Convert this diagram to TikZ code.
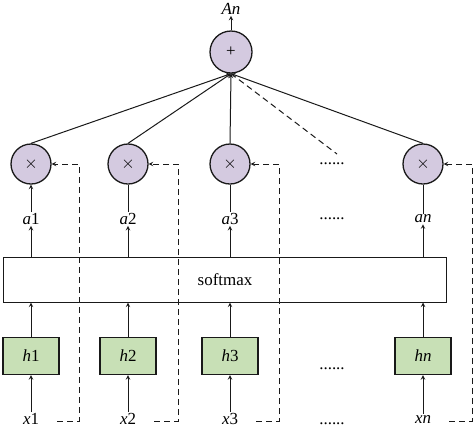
\documentclass[tikz,border=0pt]{standalone}
\usepackage{fontspec}
\setmainfont{Liberation Serif}
\usetikzlibrary{positioning}
\definecolor{mulFill}{RGB}{212,202,224}
\definecolor{hFill}{RGB}{200,224,182}
\colorlet{lineCol}{black!90}
\tikzset{
  lbl/.style={inner sep=1pt,font=\fontsize{17}{20}\selectfont},
  mulnode/.style={circle,draw=lineCol,line width=1.3pt,fill=mulFill,minimum size=40bp,inner sep=0pt,font=\fontsize{17}{20}\selectfont},
  hbox/.style={draw=lineCol,line width=1.3pt,fill=hFill,minimum width=56bp,minimum height=37bp,inner sep=0pt,font=\fontsize{17}{20}\selectfont},
  conn/.style={lineCol,line width=1bp},
  dsh/.style={lineCol,line width=1bp,dash pattern=on 6bp off 4bp},
}
\NewDocumentCommand\Lab{mm}{\textit{#1}#2}

\begin{document}
\begin{tikzpicture}[x=1bp,y=-1bp]
\useasboundingbox (0,0) rectangle (474,427);
% sum node and softmax layer
\node[mulnode,minimum size=42bp] (plus) at (231,52) {+};
\node[lbl] (An) at (231,9) {\Lab{An}{}};
\draw[conn,-stealth] (plus.north) -- (An.south);
\node[draw=lineCol,line width=1bp,minimum width=442bp,minimum height=45bp,inner sep=0pt,lbl] (soft) at (225,279.5) {softmax};
% one column per input
\foreach \i/\lab/\cx/\dx in {1/1/31/79,2/2/128/178,3/3/230/279,n/\textit{n}/423/472}
{
  \node[mulnode] (m\i) at (\cx,164) {$\times$};
  \node[lbl] (a\i) at (\cx,219) {\Lab{a}{\lab}};
  \node[hbox] (h\i) at (\cx,356) {\Lab{h}{\lab}};
  \node[lbl] (x\i) at (\cx,419) {\Lab{x}{\lab}};
  \draw[conn,-stealth] (x\i.north) -- (h\i.south);
  \draw[conn,-stealth] (h\i.north) -- (h\i.north |- soft.south);
  \draw[conn,-stealth] (a\i.north |- soft.north) -- (a\i.south);
  \draw[conn,-stealth] (m\i.north) -- (plus.south);
  % dashed skip path
  \coordinate (s\i) at (\cx+26,421);
  \coordinate (c\i) at (\dx,421);
  \draw[dsh,-stealth] (s\i) -- (c\i) -- (c\i |- m\i.east) -- (m\i.east);
}
\draw[conn,-stealth] (a1.north) -- (m1.south);
\draw[conn] (a2.north) -- (m2.south);
\draw[conn] (a3.north) -- (m3.south);
\draw[conn] (an.north) -- (mn.south);
% elided columns
\coordinate (dend) at (337,154);
\draw[dsh] (plus.south) -- (dend);
\node[lbl] (dots1) at (332,164) {......};
\node[lbl] (dots2) at (332,219) {......};
\node[lbl] (dots3) at (332,369) {......};
\node[lbl] (dots4) at (332,424) {......};
\end{tikzpicture}
\end{document}
